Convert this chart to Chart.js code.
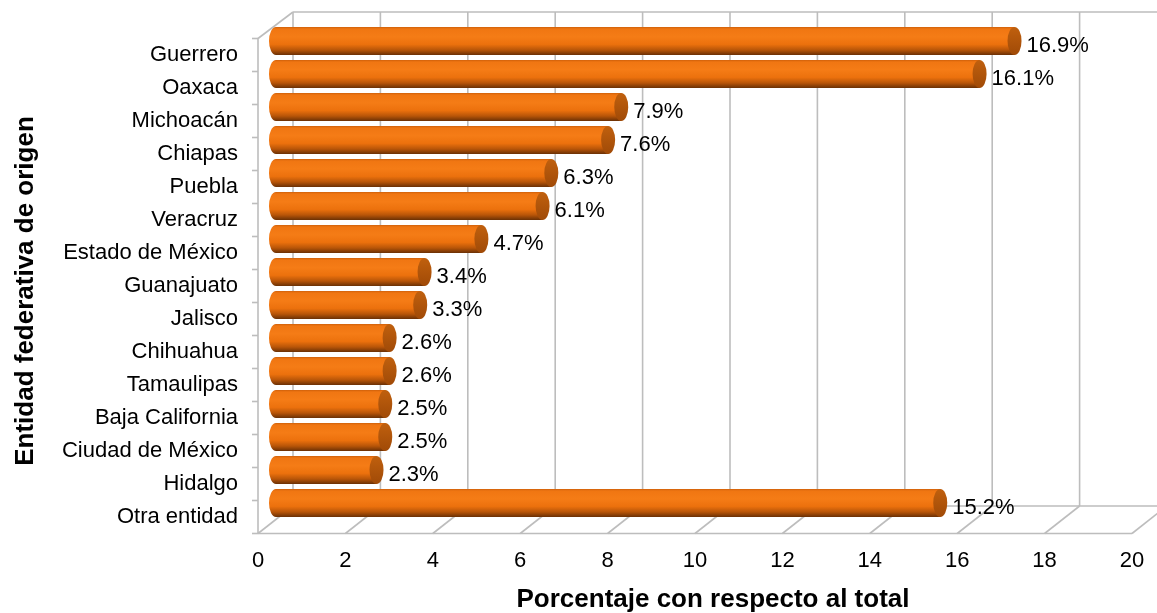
<!DOCTYPE html>
<html>
<head>
<meta charset="utf-8">
<script src="https://cdn.jsdelivr.net/npm/chart.js@4/dist/chart.umd.min.js"></script>
<style>
  html, body { margin: 0; padding: 0; background: #ffffff; }
  #wrap { width: 1157px; height: 613px; position: relative; }
</style>
</head>
<body>
<div id="wrap"><canvas id="c" width="1157" height="613"></canvas></div>
<script>
const categories = ["Guerrero", "Oaxaca", "Michoacán", "Chiapas", "Puebla", "Veracruz",
  "Estado de México", "Guanajuato", "Jalisco", "Chihuahua", "Tamaulipas",
  "Baja California", "Ciudad de México", "Hidalgo", "Otra entidad"];
const values = [16.9, 16.1, 7.9, 7.6, 6.3, 6.1, 4.7, 3.4, 3.3, 2.6, 2.6, 2.5, 2.5, 2.3, 15.2];
const xTicks = [0, 2, 4, 6, 8, 10, 12, 14, 16, 18, 20];
const xTitle = "Porcentaje con respecto al total";
const yTitle = "Entidad federativa de origen";

const FONT = "'Liberation Sans', Arial, Helvetica, sans-serif";
const GRID = "#bdbdbd";
// 3D depth offsets (pixels)
const DXF = -18, DXB = 17, DYF = 14, DYB = -13.5;

const walls3d = {
  id: 'walls3d',
  beforeDatasetsDraw(chart) {
    const ctx = chart.ctx, xs = chart.scales.x, ca = chart.chartArea;
    const n = categories.length;
    ctx.save();
    ctx.strokeStyle = GRID;
    ctx.lineWidth = 1.6;
    const backTop = ca.top - 12.5, backBot = ca.bottom + DYB;
    const frontTop = ca.top + DYF, frontBot = ca.bottom + DYF;
    xTicks.forEach(v => {
      const x = xs.getPixelForValue(v) + DXB;
      ctx.beginPath(); ctx.moveTo(x, backTop); ctx.lineTo(x, backBot); ctx.stroke();
    });
    const x0b = xs.getPixelForValue(xTicks[0]) + DXB;
    const x1b = xs.getPixelForValue(xTicks[xTicks.length - 1]) + DXB;
    ctx.beginPath(); ctx.moveTo(x0b, backTop); ctx.lineTo(x1b, backTop); ctx.stroke();
    ctx.beginPath(); ctx.moveTo(x0b, backBot); ctx.lineTo(x1b, backBot); ctx.stroke();
    xTicks.forEach(v => {
      const p = xs.getPixelForValue(v);
      ctx.beginPath(); ctx.moveTo(p + DXF, frontBot); ctx.lineTo(p + DXB, backBot); ctx.stroke();
    });
    const x0f = xs.getPixelForValue(xTicks[0]) + DXF;
    const x1f = xs.getPixelForValue(xTicks[xTicks.length - 1]) + DXF;
    ctx.beginPath(); ctx.moveTo(x0f, frontBot); ctx.lineTo(x1f, frontBot); ctx.stroke();
    ctx.beginPath(); ctx.moveTo(x0f, frontTop); ctx.lineTo(x0f, frontBot); ctx.stroke();
    ctx.beginPath(); ctx.moveTo(x0f, frontTop); ctx.lineTo(x0b, backTop); ctx.stroke();
    const band = (ca.bottom - ca.top) / n;
    for (let k = 0; k <= n; k++) {
      const y = frontTop + band * k;
      ctx.beginPath(); ctx.moveTo(x0f - 6, y); ctx.lineTo(x0f, y); ctx.stroke();
    }
    ctx.restore();
  },
  afterDatasetsDraw(chart) {
    const ctx = chart.ctx;
    const meta = chart.getDatasetMeta(0);
    ctx.save();
    meta.data.forEach((bar, i) => {
      const p = bar.getProps(['x', 'y', 'base', 'height'], true);
      const h = p.height, top = p.y - h / 2, bot = p.y + h / 2, rx = 7;
      const g = ctx.createLinearGradient(0, top, 0, bot);
      g.addColorStop(0, '#CF600A');
      g.addColorStop(0.07, '#F07612');
      g.addColorStop(0.35, '#F57C16');
      g.addColorStop(0.62, '#EC710D');
      g.addColorStop(0.82, '#B85508');
      g.addColorStop(1, '#6A3005');
      ctx.beginPath();
      ctx.moveTo(p.x, top);
      ctx.lineTo(p.base, top);
      ctx.ellipse(p.base, p.y, rx, h / 2, 0, -Math.PI / 2, Math.PI / 2, true);
      ctx.lineTo(p.x, bot);
      ctx.closePath();
      ctx.fillStyle = g;
      ctx.fill();
      const gc = ctx.createLinearGradient(0, top, 0, bot);
      gc.addColorStop(0, '#C0600E');
      gc.addColorStop(1, '#A04A07');
      ctx.beginPath();
      ctx.ellipse(p.x, p.y, rx, h / 2, 0, 0, Math.PI * 2);
      ctx.fillStyle = gc;
      ctx.fill();
      ctx.fillStyle = '#000000';
      ctx.font = '22px ' + FONT;
      ctx.textAlign = 'left';
      ctx.textBaseline = 'middle';
      ctx.fillText(values[i].toFixed(1) + '%', p.x + rx + 5, p.y + 5);
    });
    ctx.save();
    ctx.translate(26, 291);
    ctx.rotate(-Math.PI / 2);
    ctx.font = 'bold 26px ' + FONT;
    ctx.textAlign = 'center';
    ctx.textBaseline = 'middle';
    ctx.fillText(yTitle, 0, 0);
    ctx.restore();
    ctx.restore();
  }
};

new Chart(document.getElementById('c'), {
  type: 'bar',
  data: {
    labels: categories,
    datasets: [{
      data: values,
      backgroundColor: 'rgba(0,0,0,0)',
      borderWidth: 0,
      barPercentage: 0.85,
      categoryPercentage: 1.0
    }]
  },
  options: {
    indexAxis: 'y',
    responsive: false,
    animation: false,
    devicePixelRatio: 1,
    layout: { padding: { top: 24.5, right: 7, left: 0, bottom: 0 } },
    plugins: { legend: { display: false }, tooltip: { enabled: false }, title: { display: false } },
    scales: {
      x: {
        min: 0, max: 20,
        afterBuildTicks(scale) { scale.ticks = xTicks.map(v => ({ value: v })); },
        afterFit(scale) { scale.height = 93.5; scale.paddingLeft = 0; scale.paddingRight = 0; },
        grid: { display: false, drawTicks: false },
        border: { display: false },
        ticks: {
          color: '#000', font: { family: FONT, size: 22 }, padding: 28,
          labelOffset: -18, maxRotation: 0, autoSkip: false
        },
        title: {
          display: true, text: xTitle, color: '#000',
          font: { family: FONT, size: 26, weight: 'bold', lineHeight: 1.0 },
          padding: { top: 0, bottom: 0 }
        }
      },
      y: {
        afterFit(scale) { scale.width = 276; scale.paddingTop = 0; scale.paddingBottom = 0; },
        grid: { display: false, drawTicks: false },
        border: { display: false },
        ticks: {
          color: '#000', font: { family: FONT, size: 22 }, padding: 38,
          labelOffset: 14, autoSkip: false
        }
      }
    }
  },
  plugins: [walls3d]
});
</script>
</body>
</html>
